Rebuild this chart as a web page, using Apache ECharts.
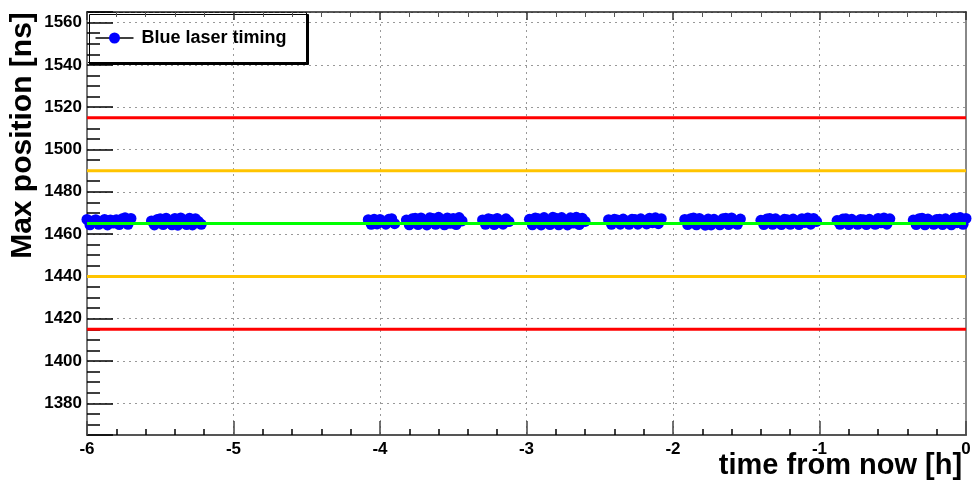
<!DOCTYPE html>
<html><head><meta charset="utf-8">
<script src="https://cdn.jsdelivr.net/npm/echarts@6/dist/echarts.min.js"></script>
<style>html,body{margin:0;padding:0;background:#fff}#c{width:976px;height:482px}</style>
</head><body><div id="c"></div>
<script>
const seriesName = 'Blue laser timing';
const xTitle = 'time from now [h]';
const yTitle = 'Max position [ns]';
const xRange = [-6, 0];
const yRange = [1365, 1565];
const redLimits = [1415, 1515];
const yellowLimits = [1440, 1490];
const nominalLevel = [1465];

// time from now [h], one line per run of samples
const timeH = [
  -6.00,-5.98,-5.96,-5.94,-5.92,-5.90,-5.88,-5.86,-5.84,-5.82,-5.80,-5.78,-5.76,-5.74,-5.72,-5.70,
  -5.56,-5.54,-5.52,-5.50,-5.48,-5.46,-5.44,-5.42,-5.40,-5.38,-5.36,-5.34,-5.32,-5.30,-5.28,-5.26,-5.24,-5.22,
  -4.08,-4.06,-4.04,-4.02,-4.00,-3.98,-3.96,-3.94,-3.92,-3.90,
  -3.82,-3.80,-3.78,-3.76,-3.74,-3.72,-3.70,-3.68,-3.66,-3.64,-3.62,-3.60,-3.58,-3.56,-3.54,-3.52,-3.50,-3.48,-3.46,-3.44,
  -3.30,-3.28,-3.26,-3.24,-3.22,-3.20,-3.18,-3.16,-3.14,-3.12,
  -2.98,-2.96,-2.94,-2.92,-2.90,-2.88,-2.86,-2.84,-2.82,-2.80,-2.78,-2.76,-2.74,-2.72,-2.70,-2.68,-2.66,-2.64,-2.62,-2.60,
  -2.44,-2.42,-2.40,-2.38,-2.36,-2.34,-2.32,-2.30,-2.28,-2.26,-2.24,-2.22,-2.20,-2.18,-2.16,-2.14,-2.12,-2.10,-2.08,
  -1.92,-1.90,-1.88,-1.86,-1.84,-1.82,-1.80,-1.78,-1.76,-1.74,-1.72,-1.70,-1.68,-1.66,-1.64,-1.62,-1.60,-1.58,-1.56,-1.54,
  -1.40,-1.38,-1.36,-1.34,-1.32,-1.30,-1.28,-1.26,-1.24,-1.22,-1.20,-1.18,-1.16,-1.14,-1.12,-1.10,-1.08,-1.06,-1.04,-1.02,
  -0.88,-0.86,-0.84,-0.82,-0.80,-0.78,-0.76,-0.74,-0.72,-0.70,-0.68,-0.66,-0.64,-0.62,-0.60,-0.58,-0.56,-0.54,-0.52,
  -0.36,-0.34,-0.32,-0.30,-0.28,-0.26,-0.24,-0.22,-0.20,-0.18,-0.16,-0.14,-0.12,-0.10,-0.08,-0.06,-0.04,-0.02,0.00
];
// max position [ns], same order as timeH
const maxPos = [
  1466.9,1464.4,1466.2,1466.8,1464.6,1465.5,1466.9,1464.3,1466.7,1465.2,1466.8,1464.5,1467.2,1467.7,1464.6,1467.4,
  1466.2,1464.3,1466.9,1467.3,1464.5,1467.5,1465.8,1464.4,1467.4,1464.2,1467.6,1465.5,1464.5,1467.5,1464.3,1467.3,1466.0,1464.6,
  1466.8,1464.6,1467.0,1464.8,1466.9,1465.6,1464.7,1467.0,1467.3,1464.9,
  1466.6,1464.4,1467.2,1467.5,1464.5,1467.6,1465.9,1464.3,1467.7,1467.4,1464.6,1467.9,1466.5,1464.4,1467.6,1465.1,1467.4,1464.5,1467.8,1466.2,
  1466.7,1464.6,1467.3,1466.9,1464.5,1467.4,1465.6,1464.7,1467.2,1465.9,
  1467.0,1464.4,1467.6,1467.3,1464.3,1467.8,1465.7,1464.5,1467.9,1467.5,1464.4,1467.8,1466.4,1464.3,1467.7,1465.2,1467.9,1464.5,1467.5,1466.0,
  1466.8,1464.6,1467.0,1466.7,1464.7,1467.1,1465.8,1464.6,1467.0,1466.9,1464.7,1467.2,1466.0,1464.8,1467.5,1465.4,1467.7,1464.9,1467.3,
  1466.9,1464.5,1467.3,1467.6,1464.4,1467.4,1465.6,1464.2,1467.1,1464.3,1467.0,1465.8,1464.4,1467.2,1467.5,1464.5,1467.6,1465.3,1464.6,1467.1,
  1466.5,1464.5,1467.1,1467.4,1464.6,1467.2,1465.7,1464.5,1467.0,1466.8,1464.6,1467.1,1466.2,1464.5,1467.3,1465.5,1467.6,1464.7,1467.4,1466.0,
  1466.4,1464.6,1467.1,1467.2,1464.5,1467.0,1465.9,1464.6,1466.9,1466.8,1464.5,1467.0,1466.1,1464.6,1467.4,1465.3,1467.6,1464.7,1467.2,
  1466.6,1464.5,1467.3,1467.5,1464.4,1467.1,1465.8,1464.6,1466.9,1467.0,1464.5,1467.2,1466.3,1464.4,1467.6,1465.4,1467.8,1464.6,1467.4
];

const FONT = '"Liberation Sans", Arial, Helvetica, sans-serif';
const chart = echarts.init(document.getElementById('c'), null, {renderer: 'canvas'});

function levelSeries(levels, color, z) {
  return levels.map(v => ({
    type: 'line', silent: true, symbol: 'none', z: z,
    data: [[xRange[0], v], [xRange[1], v]],
    lineStyle: {color: color, width: 3}
  }));
}

const n = Math.min(timeH.length, maxPos.length);
const points = timeH.slice(0, n).map((t, i) => [t, maxPos[i]]);

chart.setOption({
  animation: false,
  backgroundColor: '#fff',
  grid: {left: 87, right: 10, top: 12, bottom: 47, containLabel: false, outerBoundsMode: 'none'},
  graphic: [{
    type: 'group', left: 87, top: 12, z: 100,
    children: [
      {type: 'rect', shape: {x: 0, y: 0, width: 219, height: 50},
        style: {fill: '#fff', stroke: '#000', lineWidth: 1, shadowColor: '#000', shadowOffsetX: 2, shadowOffsetY: 2, shadowBlur: 0}},
      {type: 'line', shape: {x1: 8, y1: 25.5, x2: 46, y2: 25.5}, style: {stroke: '#000', lineWidth: 1.5}},
      {type: 'circle', shape: {cx: 27, cy: 25.5, r: 5.5}, style: {fill: '#0000ff'}},
      {type: 'text', x: 54, y: 25.5, style: {text: seriesName, fontFamily: FONT, fontWeight: 'bold', fontSize: 18, fill: '#000', verticalAlign: 'middle', align: 'left'}}
    ]
  }],
  xAxis: [{
    type: 'value', min: xRange[0], max: xRange[1], interval: 1, position: 'bottom',
    name: xTitle, nameLocation: 'middle', nameGap: 16, nameMoveOverlap: false,
    nameTextStyle: {fontFamily: FONT, fontWeight: 'bold', fontSize: 29, color: '#000', padding: [0, 0, 0, 628]},
    axisLine: {onZero: false, lineStyle: {color: '#555', width: 2}},
    axisTick: {inside: true, length: 14, lineStyle: {color: '#444', width: 1.5}},
    minorTick: {show: true, splitNumber: 5, length: 6, lineStyle: {color: '#000', width: 1.5}},
    axisLabel: {fontFamily: FONT, fontWeight: 'bold', fontSize: 17, color: '#000', margin: 6},
    splitLine: {show: true, lineStyle: {color: '#999', type: [2, 4], width: 1}}
  }, {
    type: 'value', min: xRange[0], max: xRange[1], interval: 1, position: 'top',
    axisLine: {onZero: false, lineStyle: {color: '#222', width: 1.5}},
    axisTick: {inside: true, length: 8, lineStyle: {color: '#333', width: 1.5}},
    minorTick: {show: true, splitNumber: 5, length: 5, lineStyle: {color: '#555', width: 1}},
    axisLabel: {show: false}, splitLine: {show: false}
  }],
  yAxis: [{
    type: 'value', min: yRange[0], max: yRange[1], splitNumber: 10, position: 'left',
    name: yTitle, nameLocation: 'middle', nameRotate: 90, nameGap: 49, nameMoveOverlap: false,
    nameTextStyle: {fontFamily: FONT, fontWeight: 'bold', fontSize: 30, color: '#000', padding: [0, 0, 0, 176]},
    axisLine: {onZero: false, lineStyle: {color: '#777', width: 2}},
    axisTick: {inside: true, length: 26, lineStyle: {color: '#000', width: 1.5}},
    minorTick: {show: true, splitNumber: 4, length: 13, lineStyle: {color: '#000', width: 1.5}},
    axisLabel: {fontFamily: FONT, fontWeight: 'bold', fontSize: 17, color: '#000', margin: 5,
      showMinLabel: false, showMaxLabel: false, formatter: v => String(v)},
    splitLine: {show: true, lineStyle: {color: '#999', type: [2, 4], width: 1}}
  }, {
    type: 'value', min: yRange[0], max: yRange[1], splitNumber: 10, position: 'right',
    axisLine: {show: true, onZero: false, lineStyle: {color: '#888', width: 2}},
    axisTick: {show: false}, axisLabel: {show: false}, splitLine: {show: false}
  }],
  series: [
    ...levelSeries(redLimits, '#ff0000', 3),
    ...levelSeries(yellowLimits, '#ffc400', 3),
    {
      name: seriesName, type: 'scatter', data: points, symbol: 'circle', symbolSize: 11,
      itemStyle: {color: '#0000ff', opacity: 1}, z: 4, clip: false
    },
    ...levelSeries(nominalLevel, '#00ff00', 5)
  ]
});
</script></body></html>
